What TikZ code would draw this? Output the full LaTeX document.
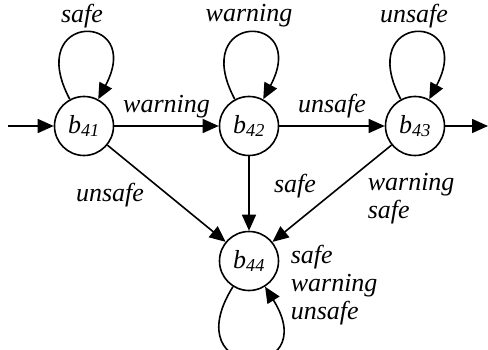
\documentclass[tikz,border=0pt]{standalone}
\usepackage{fontspec}
\setmainfont{Liberation Serif}
\newfontfamily\labelfont{Liberation Serif}
\usetikzlibrary{arrows.meta}
\begin{document}
\begin{tikzpicture}[x=1pt, y=1pt, line width=1.6pt,
  >={Triangle[length=16pt, width=14pt]},
  font=\labelfont\itshape\fontsize{26}{28}\selectfont,
  state/.style={draw, circle, minimum size=59pt, inner sep=0pt},
  lbl/.style={inner sep=0pt, align=left}]
  \useasboundingbox (0, 0) rectangle (488, 349);
  \def\st#1{b\textsubscript{#1}}
  % States of the monitor.
  \node[state] (b41) at (84, 223)  {\st{41}};
  \node[state] (b42) at (249, 223) {\st{42}};
  \node[state] (b43) at (415, 223) {\st{43}};
  \node[state] (b44) at (249, 88)  {\st{44}};
  \coordinate (start) at (8, 223);
  \coordinate (exit) at (488, 223);
  % Entry and exit.
  \draw[->] (start) -- (b41);
  \draw[->] (b43) -- (exit);
  % Forward transitions.
  \draw[->] (b41) -- node[lbl, above=7pt] (wb) {warning} (b42);
  \draw[->] (b42) -- node[lbl, above=7pt] (ub) {unsafe} (b43);
  % Transitions into b44.
  \draw[->] (b41) -- (b44);
  \draw[->] (b42) -- (b44);
  \draw[->] (b43) -- (b44);
  \node[lbl] (u14) at (110, 154) {unsafe};
  \node[lbl] (s24) at (295, 163) {safe};
  \node[lbl, anchor=west] (ws34) at (367, 150) {warning\\safe};
  % Self loops.
  \draw[->] (b41) to[out=118, in=62, looseness=9] (b41);
  \draw[->] (b42) to[out=118, in=62, looseness=9] (b42);
  \draw[->] (b43) to[out=118, in=62, looseness=9] (b43);
  \draw[->] (b44) to[out=238, in=302, looseness=9] (b44);
  \node[lbl] (l41) at (82, 333)  {safe};
  \node[lbl] (l42) at (249, 333) {warning};
  \node[lbl] (l43) at (414, 333) {unsafe};
  \node[lbl, anchor=west] (l44) at (290, 64) {safe\\warning\\unsafe};
\end{tikzpicture}
\end{document}
